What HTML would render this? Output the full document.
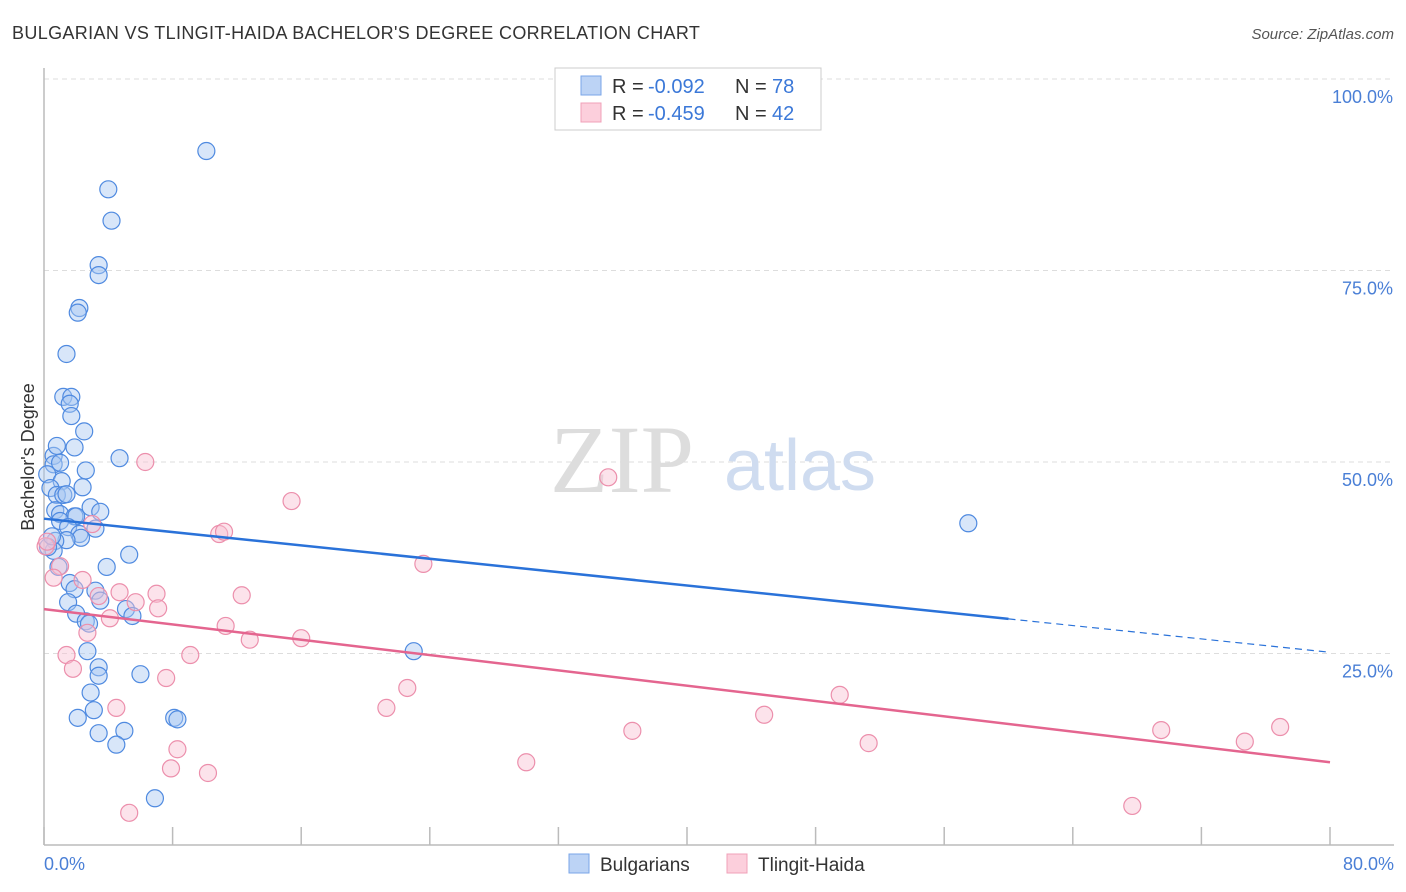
<!DOCTYPE html>
<html><head><meta charset="utf-8"><style>
body{margin:0;background:#fff;font-family:"Liberation Sans",sans-serif}
</style></head><body>
<svg width="1406" height="892" viewBox="0 0 1406 892" style="display:block">
<text x="12" y="39" font-size="18" fill="#333" letter-spacing="0.35">BULGARIAN VS TLINGIT-HAIDA BACHELOR'S DEGREE CORRELATION CHART</text>
<text x="1394" y="39" font-size="15" fill="#555" font-style="italic" text-anchor="end">Source: ZipAtlas.com</text>
<g id="grid"></g>
<text x="622" y="492" font-size="96" fill="#ddd" font-family="Liberation Serif,serif" text-anchor="middle">ZIP</text>
<text x="800" y="490" font-size="72" fill="#cfdcf0" text-anchor="middle">atlas</text>
<line x1="44" y1="68" x2="44" y2="845" stroke="#bbb" stroke-width="1.5"/>
<line x1="44" y1="845" x2="1394" y2="845" stroke="#bbb" stroke-width="1.5"/>
<g id="xticks"></g>
<g id="ylabels"></g>
<text x="44" y="870" font-size="18" fill="#4a7fd6">0.0%</text>
<text x="1394" y="870" font-size="18" fill="#4a7fd6" text-anchor="end">80.0%</text>
<text transform="translate(34,457) rotate(-90)" font-size="18" fill="#333" text-anchor="middle">Bachelor's Degree</text>
<g id="pts"></g>
<g id="lines"></g>
<g>
<rect x="555" y="68" width="266" height="62" fill="#fff" stroke="#ccc"/>
<rect x="581" y="76" width="20" height="19" fill="#bcd3f5" stroke="#7aa6e8"/>
<rect x="581" y="103" width="20" height="19" fill="#fccfdc" stroke="#f0a0b8"/>
<text x="612" y="93" font-size="20" fill="#333">R =</text>
<text x="648" y="93" font-size="20" fill="#3b78d8">-0.092</text>
<text x="735" y="93" font-size="20" fill="#333">N =</text>
<text x="772" y="93" font-size="20" fill="#3b78d8">78</text>
<text x="612" y="120" font-size="20" fill="#333">R =</text>
<text x="648" y="120" font-size="20" fill="#3b78d8">-0.459</text>
<text x="735" y="120" font-size="20" fill="#333">N =</text>
<text x="772" y="120" font-size="20" fill="#3b78d8">42</text>
</g>
<g>
<rect x="569" y="854" width="20" height="19" fill="#bcd3f5" stroke="#7aa6e8"/>
<text x="600" y="871" font-size="19" fill="#333">Bulgarians</text>
<rect x="727" y="854" width="20" height="19" fill="#fccfdc" stroke="#f0a0b8"/>
<text x="758" y="871" font-size="19" fill="#333">Tlingit-Haida</text>
</g>
</svg>
<script>
const yTicks=[25,50,75,100];
const xTicks=[0,8,16,24,32,40,48,56,64,72,80];
const bulgX=[10.1,4.0,4.2,3.4,3.4,2.2,2.1,1.4,1.2,1.7,1.6,1.7,2.5,1.9,4.7,0.6,0.6,2.6,1.0,0.2,1.1,2.4,0.4,0.8,1.2,1.4,2.9,3.5,0.7,1.0,1.9,2.0,1.0,1.5,3.2,2.2,2.3,1.4,0.7,0.6,5.3,3.9,0.9,1.6,3.2,1.9,3.5,1.5,5.1,5.5,2.0,2.6,2.8,2.7,3.4,3.4,6.0,2.9,3.1,2.1,8.1,8.3,3.4,5.0,4.5,6.9,23.0,57.5,0.25,0.5,0.8];
const bulgY=[90.6,85.6,81.5,75.7,74.4,70.1,69.5,64.1,58.5,58.5,57.6,56.0,54.0,51.9,50.5,50.8,49.7,48.9,49.9,48.4,47.5,46.7,46.6,45.7,45.7,45.8,44.1,43.5,43.7,43.2,42.9,42.9,42.3,41.5,41.3,40.6,40.1,39.8,39.7,38.4,37.9,36.3,36.3,34.2,33.2,33.4,31.9,31.7,30.8,29.9,30.2,29.2,28.9,25.3,23.2,22.1,22.3,19.9,17.6,16.6,16.6,16.4,14.6,14.9,13.1,6.1,25.3,42.0,38.9,40.3,52.1];
const tlinX=[6.3,35.1,15.4,10.9,11.2,3.0,23.6,1.0,0.6,2.4,4.7,3.4,5.7,7.0,7.1,12.3,4.1,2.7,11.3,12.8,16.0,1.4,1.8,9.1,7.6,22.6,21.3,4.5,49.5,44.8,36.6,51.3,8.3,7.9,10.2,30.0,5.3,67.7,69.5,74.7,76.9,0.1,0.2];
const tlinY=[50.0,48.0,44.9,40.6,40.9,41.9,36.7,36.4,34.9,34.6,33.0,32.5,31.7,32.8,30.9,32.6,29.6,27.7,28.6,26.8,27.0,24.8,23.0,24.8,21.8,20.5,17.9,17.9,19.6,17.0,14.9,13.3,12.5,10.0,9.4,10.8,4.2,5.1,15.0,13.5,15.4,39.0,39.6];
const blueLine=[42.6,-0.218];
const pinkLine=[30.8,-0.25];
const NS="http://www.w3.org/2000/svg";
const X0=44,X1=1330,Y0=845,YH=79;
function sx(v){return X0+(v/80)*(X1-X0);}
function sy(v){return Y0-(v/100)*(Y0-YH);}
function mk(t,a,p){const e=document.createElementNS(NS,t);for(const k in a)e.setAttribute(k,a[k]);p.appendChild(e);return e;}
const grid=document.getElementById('grid'),yl=document.getElementById('ylabels'),xt=document.getElementById('xticks');
yTicks.forEach(t=>{
 const l=mk('line',{x1:44,x2:1394,y1:sy(t),y2:sy(t),stroke:'#ddd','stroke-dasharray':'5,4'},grid);
 
 
 const tx=mk('text',{x:1393,y:sy(t)+24,'font-size':18,fill:'#4a7fd6','text-anchor':'end'},yl);
 tx.textContent=t.toFixed(1)+'%';
 
 
});
xTicks.forEach(t=>{
 const l=mk('line',{x1:sx(t),x2:sx(t),y1:Y0-18,y2:Y0,stroke:'#bbb','stroke-width':1.5},xt);
 
 
});
const pts=document.getElementById('pts');
function series(xs,ys,fill,stroke,name){
 xs.forEach((x,i)=>{
  const c=mk('circle',{cx:sx(x),cy:sy(ys[i]),r:8.5,fill:fill,'fill-opacity':0.45,stroke:stroke,'stroke-width':1.2},pts);
  
  
 });
}
series(bulgX,bulgY,'#a9c7f2','#4f8ae0','bulgarian');
series(tlinX,tlinY,'#f9c2d3','#ec8fac','tlingit-haida');
const lines=document.getElementById('lines');
const b1=mk('line',{x1:sx(0),y1:sy(blueLine[0]),x2:sx(60),y2:sy(blueLine[0]+blueLine[1]*60),stroke:'#2a72d9','stroke-width':2.5},lines);


const b2=mk('line',{x1:sx(60),y1:sy(blueLine[0]+blueLine[1]*60),x2:sx(80),y2:sy(blueLine[0]+blueLine[1]*80),stroke:'#2a72d9','stroke-width':1.2,'stroke-dasharray':'7,5'},lines);


const p1=mk('line',{x1:sx(0),y1:sy(pinkLine[0]),x2:sx(80),y2:sy(pinkLine[0]+pinkLine[1]*80),stroke:'#e4658f','stroke-width':2.5},lines);


</script>
</body></html>
